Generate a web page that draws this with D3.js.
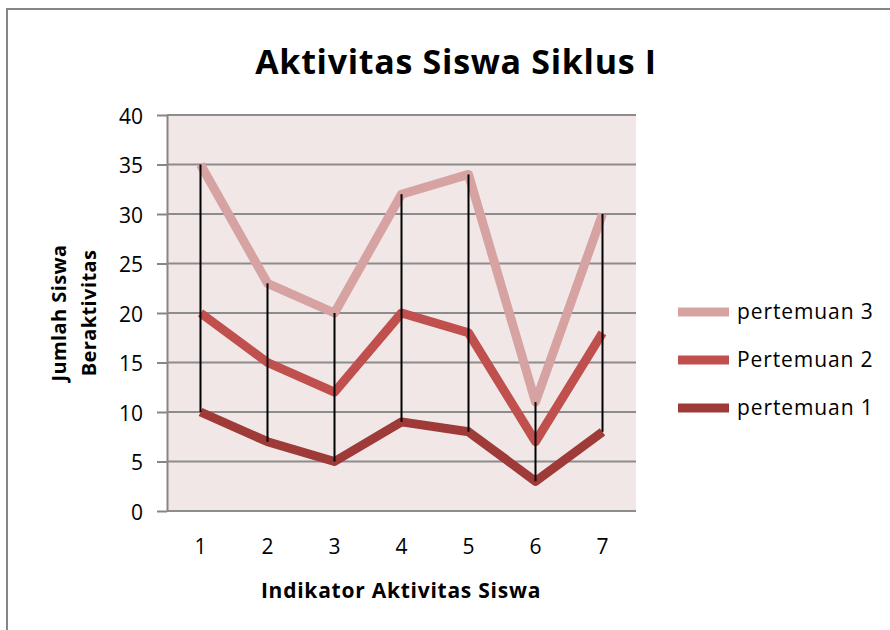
<!DOCTYPE html>
<html>
<head>
<meta charset="utf-8">
<script src="https://cdn.jsdelivr.net/npm/d3@7"></script>
<style>
  body { margin: 0; background: #fff; }
  text { font-family: "Open Sans", sans-serif; fill: #000; }
</style>
</head>
<body>
<svg class="svg-main" width="890" height="630"></svg>
<script>
const categories = ["1", "2", "3", "4", "5", "6", "7"];
const pertemuan1 = [10, 7, 5, 9, 8, 3, 8];
const pertemuan2 = [20, 15, 12, 20, 18, 7, 18];
const pertemuan3 = [35, 23, 20, 32, 34, 11, 30];
const yTicks = [0, 5, 10, 15, 20, 25, 30, 35, 40];

const series = [
  { name: "pertemuan 3", values: pertemuan3, color: "#d6a3a2" },
  { name: "Pertemuan 2", values: pertemuan2, color: "#c0504d" },
  { name: "pertemuan 1", values: pertemuan1, color: "#9e3b39" }
];

const svg = d3.select(".svg-main");

// chart frame (only left and top edges show)
svg.append("rect")
  .attr("x", 7).attr("y", 9)
  .attr("width", 1000).attr("height", 1000)
  .attr("fill", "none")
  .attr("stroke", "#868686")
  .attr("stroke-width", 2);

const plot = { left: 167, right: 636, top: 115, bottom: 511 };

const x = d3.scaleBand()
  .domain(categories)
  .range([plot.left, plot.right]);

const y = d3.scaleLinear()
  .domain([0, 40])
  .range([plot.bottom, plot.top]);

svg.append("rect")
  .attr("x", plot.left).attr("y", plot.top)
  .attr("width", plot.right - plot.left)
  .attr("height", plot.bottom - plot.top)
  .attr("fill", "#f2e7e7");

// y axis
const yAxis = svg.append("g")
  .attr("transform", `translate(${plot.left},0)`)
  .call(d3.axisLeft(y).tickValues(yTicks).tickSize(10).tickPadding(14)
    .tickSizeOuter(0));
yAxis.select(".domain").attr("stroke", "#868686").attr("stroke-width", 2);
yAxis.selectAll(".tick line").attr("stroke", "#868686").attr("stroke-width", 2);
yAxis.selectAll(".tick text")
  .style("font-size", "21px")
  .attr("font-family", "'Open Sans', sans-serif")
  .attr("dy", "0.4em");

// gridlines
svg.append("g")
  .selectAll("line")
  .data(yTicks)
  .enter().append("line")
    .attr("x1", plot.left).attr("x2", plot.right)
    .attr("y1", (d) => y(d)).attr("y2", (d) => y(d))
    .attr("stroke", "#8c8c8c")
    .attr("stroke-width", 2);

// x axis
const xAxis = svg.append("g")
  .attr("transform", `translate(0,${plot.bottom})`)
  .call(d3.axisBottom(x).tickSize(0).tickPadding(28).tickSizeOuter(0));
xAxis.select(".domain").remove();
xAxis.selectAll(".tick text")
  .style("font-size", "21px")
  .attr("font-family", "'Open Sans', sans-serif");

const cx = (i) => x(categories[i]) + x.bandwidth() / 2;

// series lines
const line = d3.line()
  .x((d, i) => cx(i))
  .y((d) => y(d));

svg.append("g")
  .selectAll("path")
  .data(series)
  .enter().append("path")
    .attr("d", (d) => line(d.values))
    .attr("fill", "none")
    .attr("stroke", (d) => d.color)
    .attr("stroke-width", 9)
    .attr("stroke-linejoin", "round");

// high-low lines
svg.append("g")
  .selectAll("line")
  .data(categories)
  .enter().append("line")
    .attr("x1", (d, i) => cx(i)).attr("x2", (d, i) => cx(i))
    .attr("y1", (d, i) => y(d3.max(series, (s) => s.values[i])))
    .attr("y2", (d, i) => y(d3.min(series, (s) => s.values[i])))
    .attr("stroke", "#000")
    .attr("stroke-width", 2);

// titles
svg.append("text")
  .attr("x", 456).attr("y", 74)
  .attr("text-anchor", "middle")
  .style("font-size", "34px")
  .style("font-weight", "bold")
  .style("letter-spacing", "0.7px")
  .text("Aktivitas Siswa Siklus I");

svg.append("text")
  .attr("x", 401).attr("y", 598)
  .attr("text-anchor", "middle")
  .style("font-size", "21px")
  .style("font-weight", "bold")
  .style("letter-spacing", "0.75px")
  .text("Indikator Aktivitas Siswa");

const yTitle = svg.append("text")
  .attr("transform", "translate(66,313) rotate(-90)")
  .attr("text-anchor", "middle")
  .style("font-size", "20px")
  .style("font-weight", "bold")
  .style("letter-spacing", "0.4px");
yTitle.append("tspan").attr("x", 0).attr("dy", 0).text("Jumlah Siswa");
yTitle.append("tspan").attr("x", 0).attr("dy", 30).text("Beraktivitas");

// legend
const legend = svg.append("g")
  .selectAll("g")
  .data(series)
  .enter().append("g")
    .attr("transform", (d, i) => `translate(678,${312 + i * 48})`);

legend.append("line")
  .attr("x1", 0).attr("x2", 51)
  .attr("stroke", (d) => d.color)
  .attr("stroke-width", 9);

legend.append("text")
  .attr("x", 59).attr("y", 7)
  .style("font-size", "21px")
  .style("letter-spacing", "0.9px")
  .text((d) => d.name);
</script>
</body>
</html>
